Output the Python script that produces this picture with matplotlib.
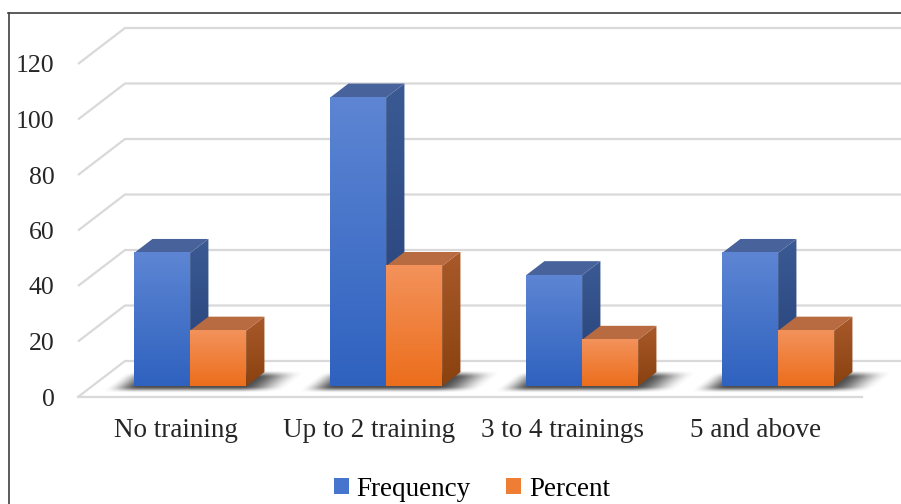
import numpy as np
import matplotlib
matplotlib.use("Agg")
import matplotlib.pyplot as plt
from matplotlib.patches import Polygon, Patch
from matplotlib.transforms import Affine2D
from matplotlib.lines import Line2D
import matplotlib.colors as mcolors

categories = ["No training", "Up to 2 training", "3 to 4 trainings", "5 and above"]
frequency = [48, 104, 40, 48]
percent = [20, 43.3, 16.7, 20]
yticks = [0, 20, 40, 60, 80, 100, 120]
series_names = ["Frequency", "Percent"]

FONT = "Liberation Serif"
W, H = 901, 504
fig = plt.figure(figsize=(W / 100, H / 100), dpi=100)
fig.patch.set_facecolor("white")

# front plane of the chart, in pixels
L, R, B, T = 78, 862, 397, 64
ax = fig.add_axes([L / W, 1 - B / H, (R - L) / W, (B - T) / H])
ax.set_xlim(-0.5, 3.5)
ax.set_ylim(0, 120)
for s in ax.spines.values():
    s.set_visible(False)
ax.set_facecolor("none")

# oblique depth of the floor (data units)
px_x = (R - L) / 4.0
px_y = (B - T) / 120.0
DX = 47 / px_x
DY = 36 / px_y
f0, f1 = 0.30, 0.69           # front / back depth of the bars
bw = 56 / px_x                # bar width

grid_c = "#d9d9d9"
# gridlines: diagonal on left wall + horizontal on back wall
for v in yticks:
    ax.plot([-0.5, -0.5 + DX, 3.5 + DX + 0.3], [v, v + DY, v + DY],
            color=grid_c, lw=1.6, clip_on=False, zorder=1, solid_capstyle="butt")
# floor front edge
ax.plot([-0.5, 3.5], [0, 0], color=grid_c, lw=1.6, clip_on=False, zorder=1)

# floor transform: (x, f) -> data
floorT = Affine2D(np.array([[1, DX, 0], [0, DY, 0], [0, 0, 1]])) + ax.transData


def ramp(t, a, b):
    return np.clip((t - a) / (b - a), 0, 1)


def smooth(t):
    return t * t * (3 - 2 * t)


# shadows
for i in range(4):
    xl = i - bw
    xr = i + bw
    x0, x1 = xl - 0.14, xr + 0.22
    fa, fb = 0.12, 0.75
    nx, ny = 200, 60
    xs = np.linspace(x0, x1, nx)
    fs = np.linspace(fa, fb, ny)
    ax_ = smooth(ramp(xs, xl - 0.14, xl + 0.03)) * smooth(1 - ramp(xs, xr - 0.02, xr + 0.22))
    ay_ = smooth(ramp(fs, 0.12, 0.30)) * smooth(1 - ramp(fs, 0.55, 0.75))
    alpha = np.outer(ay_, ax_) * 0.8
    img = np.zeros((ny, nx, 4))
    img[..., 3] = alpha
    img[..., :3] = 0.12
    im = ax.imshow(img, extent=[x0, x1, fa, fb], origin="lower",
                   interpolation="bilinear", aspect="auto", zorder=2)
    im.set_transform(floorT)
    im.set_clip_on(False)


def vgrad(top, bot, n=64):
    c0 = np.array(mcolors.to_rgb(bot))
    c1 = np.array(mcolors.to_rgb(top))
    t = np.linspace(0, 1, n)[:, None]
    return (c0 * (1 - t) + c1 * t)[:, None, :]


styles = [
    dict(front=("#5d85d3", "#2f62bf"), side=("#3b5a93", "#243f78"), top="#48639b"),
    dict(front=("#f3925b", "#ec6e1c"), side=("#a9592a", "#8a420f"), top="#b86a40"),
]

z = 3
for i in range(4):
    for k, vals in enumerate([frequency, percent]):
        v = vals[i]
        st = styles[k]
        xa = i - bw + k * bw + f0 * DX
        xb = xa + bw
        yb = f0 * DY
        yt = v + f0 * DY
        ddx = (f1 - f0) * DX
        ddy = (f1 - f0) * DY
        # side face
        side = [(xb, yb), (xb + ddx, yb + ddy), (xb + ddx, yt + ddy), (xb, yt)]
        sp = Polygon(side, closed=True, transform=ax.transData, facecolor="none",
                     edgecolor="none")
        im = ax.imshow(vgrad(*st["side"]), extent=[xb, xb + ddx, yb, yt + ddy],
                       origin="lower", aspect="auto", interpolation="bilinear", zorder=z)
        im.set_clip_path(sp)
        # top face
        top = [(xa, yt), (xb, yt), (xb + ddx, yt + ddy), (xa + ddx, yt + ddy)]
        ax.add_patch(Polygon(top, closed=True, facecolor=st["top"], edgecolor="none",
                             zorder=z + 0.1))
        # front face
        ax.imshow(vgrad(*st["front"]), extent=[xa, xb, yb, yt], origin="lower",
                  aspect="auto", interpolation="bilinear", zorder=z + 0.2)
        z += 1

ax.set_xlim(-0.5, 3.5)
ax.set_ylim(0, 120)

ax.set_yticks(yticks)
ax.set_yticklabels([str(t) for t in yticks], fontsize=18.5, family=FONT, color="#262626")
ax.set_xticks(np.arange(len(categories)) * 0.985)
ax.set_xticklabels(categories, fontsize=19.5, family=FONT, color="#262626")
ax.tick_params(axis="y", length=0, pad=17)
ax.tick_params(axis="x", length=0, pad=15)

handles = [Patch(facecolor="#4774cc", edgecolor="none"),
           Patch(facecolor="#ef7d33", edgecolor="none")]
fig.legend(handles, series_names, loc="center", bbox_to_anchor=(472 / W, 1 - 489 / H),
           ncol=2, frameon=False, prop=dict(family=FONT, size=19.5),
           handlelength=0.55, handleheight=0.55, handletextpad=0.3, columnspacing=1.3,
           borderaxespad=0, borderpad=0)

# outer frame (top and left edges visible)
fig.add_artist(Line2D([8 / W, 1.0], [1 - 12.5 / H, 1 - 12.5 / H], color="#404040", lw=1.2,
                      transform=fig.transFigure))
fig.add_artist(Line2D([8.5 / W, 8.5 / W], [0, 1 - 12.5 / H], color="#404040", lw=1.2,
                      transform=fig.transFigure))

fig.savefig("out.png", dpi=100)
